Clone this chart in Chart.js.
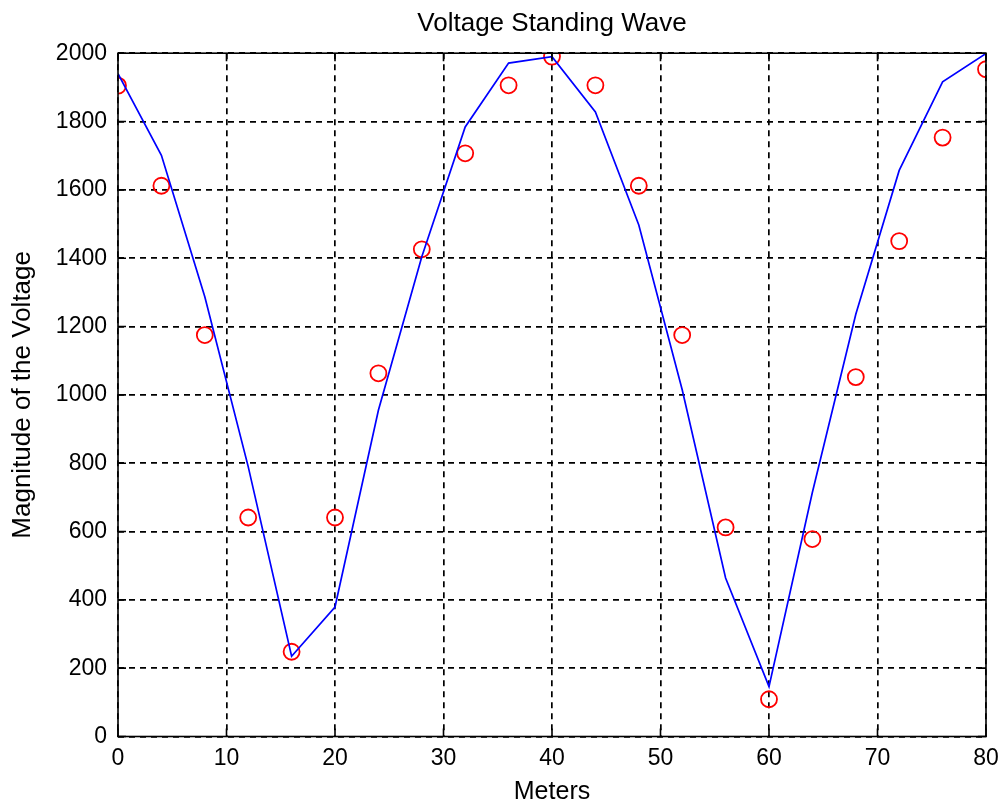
<!DOCTYPE html>
<html>
<head>
<meta charset="utf-8">
<title>Voltage Standing Wave</title>
<script src="https://cdn.jsdelivr.net/npm/chart.js@4"></script>
<style>
	body { margin: 0; background: #ffffff; }
	#wave { display: block; }
</style>
</head>
<body>
<canvas id="wave" width="999" height="809"></canvas>
<script>
// Positions along the line (m)
const meters = [0, 4, 8, 12, 16, 20, 24, 28, 32, 36, 40, 44, 48, 52, 56, 60, 64, 68, 72, 76, 80];
// Computed magnitude (blue line)
const theoryV = [1940, 1701, 1287, 790, 235, 379, 955, 1404, 1784, 1971, 1990, 1828, 1497, 1015, 464, 146, 715, 1236, 1657, 1916, 1999];
// Measured magnitude (red circles)
const measuredV = [1905, 1612, 1175, 641, 248, 641, 1063, 1426, 1707, 1906, 1990, 1906, 1612, 1175, 612, 109, 578, 1052, 1450, 1753, 1953];

const xTicks = [0, 10, 20, 30, 40, 50, 60, 70, 80];
const yTicks = [0, 200, 400, 600, 800, 1000, 1200, 1400, 1600, 1800, 2000];

const fontFamily = '"Liberation Sans", Arial, Helvetica, sans-serif';

/**
 * Draw the closed box round the plot with small inward tick marks on all sides,
 * and center the title over the plot area instead of the whole canvas
 */
const boxPlugin = {
	id: "matlabBox",
	afterLayout(chart) {
		if (chart.titleBlock) {
			chart.titleBlock.left = chart.chartArea.left;
			chart.titleBlock.right = chart.chartArea.right;
		}
	},
	afterDatasetsDraw(chart) {
		const { ctx, chartArea: a, scales } = chart;
		const len = 8;
		ctx.save();
		ctx.strokeStyle = "#000000";
		ctx.lineWidth = 1.6;
		ctx.setLineDash([]);
		ctx.beginPath();
		xTicks.forEach((v) => {
			const px = scales.x.getPixelForValue(v);
			ctx.moveTo(px, a.bottom);
			ctx.lineTo(px, a.bottom - len);
			ctx.moveTo(px, a.top);
			ctx.lineTo(px, a.top + len);
		});
		yTicks.forEach((v) => {
			const py = scales.y.getPixelForValue(v);
			ctx.moveTo(a.left, py);
			ctx.lineTo(a.left + len, py);
			ctx.moveTo(a.right, py);
			ctx.lineTo(a.right - len, py);
		});
		ctx.stroke();
		ctx.strokeRect(a.left, a.top, a.right - a.left, a.bottom - a.top);
		ctx.restore();
	},
};

function drawChart() {
	const canvas = document.getElementById("wave");
	if (!canvas) return;

	const lineData = meters.map((m, i) => ({ x: m, y: theoryV[i] }));
	const pointData = meters.map((m, i) => ({ x: m, y: measuredV[i] }));

	const gridOpts = {
		color: "#000000",
		lineWidth: 1.7,
		drawTicks: false,
	};

	new Chart(canvas, {
		type: "scatter",
		data: {
			datasets: [
				{
					label: "Computed",
					data: lineData,
					showLine: true,
					borderColor: "#0000ff",
					borderWidth: 1.7,
					pointRadius: 0,
					fill: false,
					tension: 0,
				},
				{
					label: "Measured",
					data: pointData,
					showLine: false,
					pointStyle: "circle",
					pointRadius: 8,
					pointBorderWidth: 1.8,
					pointBorderColor: "#ff0000",
					pointBackgroundColor: "rgba(0,0,0,0)",
				},
			],
		},
		options: {
			responsive: false,
			animation: false,
			layout: { padding: { top: 0, right: 13, bottom: 0, left: 0 } },
			plugins: {
				legend: { display: false },
				tooltip: { enabled: false },
				title: {
					display: true,
					text: "Voltage Standing Wave",
					color: "#000000",
					font: { family: fontFamily, size: 26, weight: "normal" },
					padding: { top: 8, bottom: 14 },
				},
			},
			scales: {
				x: {
					type: "linear",
					min: 0,
					max: 80,
					afterBuildTicks: (scale) => {
						scale.ticks = xTicks.map((v) => ({ value: v }));
					},
					afterFit: (scale) => {
						scale.height = 72.5;
						scale.paddingLeft = 0;
						scale.paddingRight = 0;
					},
					grid: gridOpts,
					border: { display: false, dash: [6, 5] },
					ticks: {
						color: "#000000",
						font: { family: fontFamily, size: 23 },
						padding: 8,
						maxRotation: 0,
						callback: (v) => String(v),
					},
					title: {
						display: true,
						text: "Meters",
						color: "#000000",
						font: { family: fontFamily, size: 25 },
						padding: { top: 0, bottom: 2 },
					},
				},
				y: {
					type: "linear",
					min: 0,
					max: 2000,
					afterBuildTicks: (scale) => {
						scale.ticks = yTicks.map((v) => ({ value: v }));
					},
					afterFit: (scale) => {
						scale.width = 118;
						scale.paddingTop = 0;
						scale.paddingBottom = 0;
					},
					grid: gridOpts,
					border: { display: false, dash: [6, 5] },
					ticks: {
						color: "#000000",
						font: { family: fontFamily, size: 23 },
						padding: 11,
						callback: (v) => String(v),
					},
					title: {
						display: true,
						text: "Magnitude of the Voltage",
						color: "#000000",
						font: { family: fontFamily, size: 26 },
						padding: { top: 7, bottom: 0 },
					},
				},
			},
		},
		plugins: [boxPlugin],
	});
}

drawChart();
</script>
</body>
</html>
